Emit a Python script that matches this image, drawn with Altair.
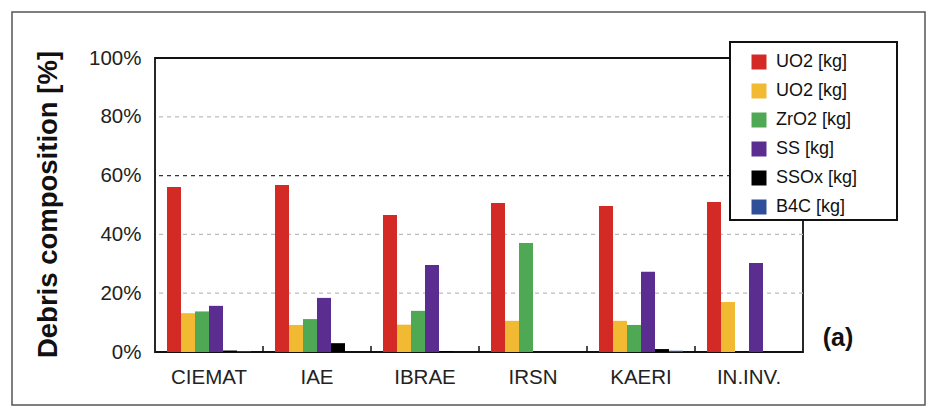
import altair as alt
import pandas as pd

categories = ["CIEMAT", "IAE", "IBRAE", "IRSN", "KAERI", "IN.INV."]
series_keys = ["UO2a", "UO2b", "ZrO2", "SS", "SSOx", "B4C"]
series_labels = ["UO2 [kg]", "UO2 [kg]", "ZrO2 [kg]", "SS [kg]", "SSOx [kg]", "B4C [kg]"]
colors = ["#d42a26", "#f2b933", "#4fa854", "#5b2d91", "#000000", "#2f4f9a"]

uo2a = [56.1, 56.8, 46.6, 50.7, 49.7, 51.0]
uo2b = [13.2, 9.2, 9.3, 10.6, 10.6, 17.0]
zro2 = [13.8, 11.2, 14.0, 37.1, 9.2, 0.0]
ss = [15.7, 18.4, 29.6, 0.0, 27.3, 30.3]
ssox = [0.5, 3.0, 0.3, 0.0, 1.0, 0.0]
b4c = [0.2, 0.0, 0.0, 0.0, 0.4, 0.0]

grid_light = [20, 40, 80]
grid_dark = [60]
y_ticks = [0, 20, 40, 60, 80, 100]

W, H = 648, 294
FONT = "Liberation Sans"

rows = []
for key, vals in zip(series_keys, [uo2a, uo2b, zro2, ss, ssox, b4c]):
    for c, v in zip(categories, vals):
        rows.append({"cat": c, "series": key, "value": v})
df = pd.DataFrame(rows)

label_map = "{" + ",".join(f"'{k}':'{l}'" for k, l in zip(series_keys, series_labels)) + "}"

x_axis = alt.Axis(domain=False, ticks=False, labelAngle=0, labelFontSize=20.5,
                  labelFont=FONT, labelColor="#222", labelPadding=15, grid=False)
y_axis = alt.Axis(values=y_ticks, labelExpr="datum.value + '%'", domain=False,
                  ticks=False, grid=False, labelFontSize=20.5, labelFont=FONT,
                  labelColor="#222", labelPadding=14,
                  title="Debris composition [%]", titleFontSize=27.5,
                  titleFont=FONT, titleFontWeight="bold", titleColor="#111",
                  titleAngle=270, titleX=-107, titleY=146,
                  titleAlign="center", titleBaseline="middle")
x_scale = alt.Scale(paddingInner=0, paddingOuter=0)
y_scale = alt.Scale(domain=[0, 100], nice=False)

bars = alt.Chart(df).mark_bar().encode(
    x=alt.X("cat:N", sort=categories, title=None, scale=x_scale, axis=x_axis),
    xOffset=alt.XOffset("series:N", sort=series_keys,
                        scale=alt.Scale(paddingInner=0, paddingOuter=0.857)),
    y=alt.Y("value:Q", scale=y_scale, axis=y_axis),
    color=alt.Color("series:N", sort=series_keys,
                    scale=alt.Scale(domain=series_keys, range=colors),
                    legend=alt.Legend(title=None, orient="none", legendX=595, legendY=-5,
                                      symbolType="square", symbolSize=225,
                                      symbolStrokeWidth=0, labelFontSize=18,
                                      labelFont=FONT, labelColor="#111",
                                      labelOffset=8, rowPadding=11, padding=0,
                                      labelExpr=label_map + "[datum.value]")),
)

grid1 = alt.Chart(pd.DataFrame({"value": grid_light})).mark_rule(
    color="#bbbbbb", strokeDash=[4, 4], strokeWidth=1.2
).encode(y=alt.Y("value:Q", scale=y_scale, axis=y_axis))

grid2 = alt.Chart(pd.DataFrame({"value": grid_dark})).mark_rule(
    color="#333333", strokeDash=[4, 4], strokeWidth=1.3
).encode(y=alt.Y("value:Q", scale=y_scale, axis=y_axis))

ticks = alt.Chart(pd.DataFrame({"cat": categories[1:]})).mark_rule(
    color="#111", strokeWidth=1.5
).encode(x=alt.X("cat:N", sort=categories, bandPosition=0, title=None,
                 scale=x_scale, axis=x_axis),
         y=alt.value(H), y2=alt.value(H - 6))

frame = alt.Chart(pd.DataFrame({"a": [0]})).mark_rect(
    fill=None, stroke="#555555", strokeWidth=1.5, clip=False
).encode(x=alt.value(-143), x2=alt.value(770), y=alt.value(-46), y2=alt.value(347))

legend_box = alt.Chart(pd.DataFrame({"a": [0]})).mark_rect(
    fill="white", stroke="#111111", strokeWidth=2, clip=False
).encode(x=alt.value(575), x2=alt.value(742), y=alt.value(-16), y2=alt.value(162))

label_a = alt.Chart(pd.DataFrame({"t": ["(a)"]})).mark_text(
    fontSize=25, fontWeight="bold", font=FONT, color="#111", align="center",
    baseline="middle"
).encode(x=alt.value(683), y=alt.value(280), text="t:N")

chart = alt.layer(frame, grid1, grid2, bars, ticks, legend_box, label_a).properties(
    width=W, height=H,
    autosize=alt.AutoSizeParams(type="none"),
    padding={"left": 147, "top": 50, "right": 126, "bottom": 58},
    background="white",
).configure_view(stroke="#111111", strokeWidth=1.8)

chart.save("out.html", embed_options={"renderer": "svg", "actions": False})
